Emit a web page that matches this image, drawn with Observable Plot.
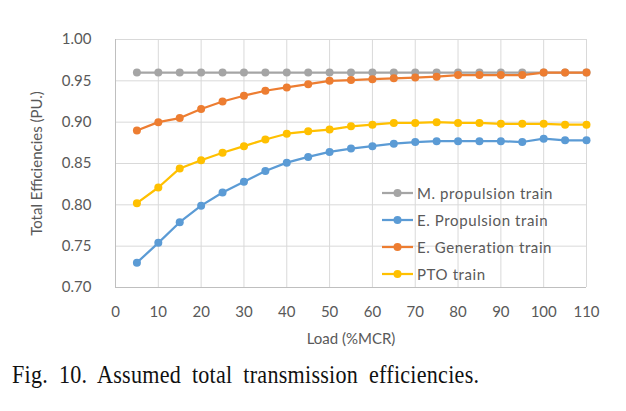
<!DOCTYPE html>
<html>
<head>
<meta charset="utf-8">
<script src="https://cdn.jsdelivr.net/npm/d3@7"></script>
<script src="https://cdn.jsdelivr.net/npm/@observablehq/plot@0.6"></script>
<style>
  body { margin: 0; background: #fff; }
  #wrap { position: relative; width: 626px; height: 411px; background: #fff; overflow: hidden; }
  #legend { position: absolute; left: 382px; top: 179px; font-family: Lato, "Open Sans", sans-serif; font-size: 15px; letter-spacing: 0.6px; color: #595959; }
  #legend .row { display: flex; align-items: center; height: 27px; }
  #legend svg { margin-right: 4px; }
  #caption { position: absolute; left: 12px; top: 362px; font-family: "Liberation Serif", "DejaVu Serif", serif; font-size: 26px; line-height: 26px; letter-spacing: 0.3px; word-spacing: 6px; color: #111; white-space: nowrap; transform: scaleX(0.85); transform-origin: left top; }
</style>
</head>
<body>
<div id="wrap"></div>
<script>
const loads = [5,10,15,20,25,30,35,40,45,50,55,60,65,70,75,80,85,90,95,100,105,110];
const seriesNames = ["M. propulsion train", "E. Propulsion train", "E. Generation train", "PTO train"];
const seriesColors = ["#A5A5A5", "#5B9BD5", "#ED7D31", "#FFC000"];
const mPropulsion = [0.96,0.96,0.96,0.96,0.96,0.96,0.96,0.96,0.96,0.96,0.96,0.96,0.96,0.96,0.96,0.96,0.96,0.96,0.96,0.96,0.96,0.96];
const ePropulsion = [0.730,0.754,0.779,0.799,0.815,0.828,0.841,0.851,0.858,0.864,0.868,0.871,0.874,0.876,0.877,0.877,0.877,0.877,0.876,0.880,0.878,0.878];
const eGeneration = [0.890,0.900,0.905,0.916,0.925,0.932,0.938,0.942,0.946,0.950,0.951,0.952,0.953,0.954,0.955,0.957,0.957,0.957,0.957,0.960,0.960,0.960];
const ptoTrain = [0.802,0.821,0.844,0.854,0.863,0.871,0.879,0.886,0.889,0.891,0.895,0.897,0.899,0.899,0.900,0.899,0.899,0.898,0.898,0.898,0.897,0.897];
const xTicks = [0,10,20,30,40,50,60,70,80,90,100,110];
const yTicks = [0.70,0.75,0.80,0.85,0.90,0.95,1.00];
const xLabel = "Load (%MCR)";
const yLabel = "Total Efficiencies (PU.)";
const captionText = "Fig. 10. Assumed total transmission efficiencies.";

const allSeries = [mPropulsion, ePropulsion, eGeneration, ptoTrain];
const data = [];
allSeries.forEach((vals, si) => vals.forEach((v, i) => data.push({series: seriesNames[si], load: loads[i], value: v})));

const font = "Lato, 'Open Sans', sans-serif";
const chart = Plot.plot({
  width: 626,
  height: 350,
  marginTop: 39,
  marginBottom: 63,
  marginLeft: 115,
  marginRight: 40,
  style: {fontFamily: font, fontSize: "15px", color: "#595959", background: "#fff"},
  x: {domain: [0, 110], ticks: xTicks, tickSize: 0, tickPadding: 19, label: xLabel, labelAnchor: "center", labelArrow: "none", labelOffset: 56},
  y: {domain: [0.70, 1.00], ticks: yTicks, tickSize: 0, tickPadding: 24, tickFormat: d3.format(".2f"), label: yLabel, labelAnchor: "center", labelArrow: "none", labelOffset: 84},
  color: {domain: seriesNames, range: seriesColors},
  marks: [
    Plot.gridX(xTicks, {stroke: "#D9D9D9", strokeOpacity: 1, strokeWidth: 1}),
    Plot.gridY(yTicks, {stroke: "#D9D9D9", strokeOpacity: 1, strokeWidth: 1}),
    Plot.ruleX([0], {stroke: "#BFBFBF"}),
    Plot.ruleY([0.70], {stroke: "#BFBFBF"}),
    Plot.line(data, {x: "load", y: "value", z: "series", stroke: "series", strokeWidth: 2.25}),
    Plot.dot(data, {x: "load", y: "value", fill: "series", r: 4})
  ]
});
const wrap = document.getElementById("wrap");
wrap.appendChild(chart);

const legend = document.createElement("div");
legend.id = "legend";
seriesNames.forEach((name, i) => {
  const row = document.createElement("div");
  row.className = "row";
  row.innerHTML = `<svg width="31" height="12"><line x1="0" y1="6" x2="31" y2="6" stroke="${seriesColors[i]}" stroke-width="2.25"/><circle cx="15.5" cy="6" r="4" fill="${seriesColors[i]}"/></svg><span>${name}</span>`;
  legend.appendChild(row);
});
wrap.appendChild(legend);

const cap = document.createElement("div");
cap.id = "caption";
cap.textContent = captionText;
wrap.appendChild(cap);
</script>
</body>
</html>
